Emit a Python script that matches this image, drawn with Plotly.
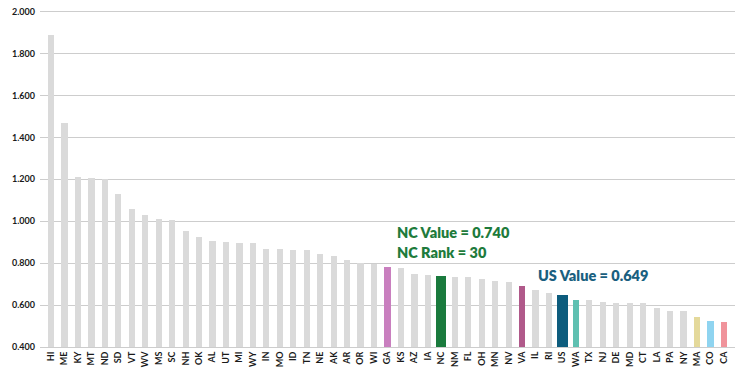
import plotly.graph_objects as go

# State values, sorted high to low (US average included as its own bar)
states = ["HI", "ME", "KY", "MT", "ND", "SD", "VT", "WV", "MS", "SC",
          "NH", "OK", "AL", "UT", "MI", "WY", "IN", "MO", "ID", "TN",
          "NE", "AK", "AR", "OR", "WI", "GA", "KS", "AZ", "IA", "NC",
          "NM", "FL", "OH", "MN", "NV", "VA", "IL", "RI", "US", "WA",
          "TX", "NJ", "DE", "MD", "CT", "LA", "PA", "NY", "MA", "CO", "CA"]
values = [1.890, 1.470, 1.210, 1.208, 1.200, 1.130, 1.060, 1.030, 1.010, 1.005,
          0.955, 0.925, 0.908, 0.900, 0.898, 0.895, 0.870, 0.869, 0.865, 0.864,
          0.843, 0.835, 0.816, 0.800, 0.797, 0.784, 0.776, 0.748, 0.744, 0.740,
          0.736, 0.735, 0.725, 0.717, 0.709, 0.692, 0.670, 0.658, 0.649, 0.625,
          0.624, 0.614, 0.610, 0.610, 0.609, 0.588, 0.574, 0.571, 0.543, 0.522, 0.521]

highlight_colors = {
    "GA": "#c97fbf",
    "NC": "#1a7a3d",
    "VA": "#b0598a",
    "US": "#0d5c7d",
    "WA": "#5fc0b1",
    "MA": "#e4d99b",
    "CO": "#8fd4f0",
    "CA": "#f0939b",
}
wide_bars = ["NC", "US"]
base_color = "#dadada"

colors = [highlight_colors.get(s, base_color) for s in states]
widths = [0.76 if s in wide_bars else 0.46 for s in states]

nc_value = values[states.index("NC")]
nc_rank = states.index("NC") + 1
us_value = values[states.index("US")]

fig = go.Figure(
    go.Bar(
        x=states,
        y=values,
        marker=dict(color=colors, line=dict(width=0)),
        width=widths,
        hoverinfo="x+y",
    )
)

tick_font = dict(family="Lato", size=9, color="#1a1a1a", weight=700)
label_font = dict(family="Lato", size=14.5, weight=800)

fig.update_layout(
    width=738,
    height=369,
    margin=dict(l=40, r=3, t=10, b=22),
    paper_bgcolor="white",
    plot_bgcolor="white",
    showlegend=False,
    bargap=0,
    xaxis=dict(
        type="category",
        range=[-0.82, 50.82],
        tickangle=-90,
        tickfont=tick_font,
        showgrid=False,
        showline=True,
        linecolor="#cdcdcd",
        linewidth=1,
        ticks="",
        automargin=False,
    ),
    yaxis=dict(
        range=[0.4, 2.008],
        tick0=0.4,
        dtick=0.2,
        tickformat=".3f",
        tickfont=tick_font,
        showgrid=True,
        gridcolor="#cdcdcd",
        gridwidth=1,
        zeroline=False,
        ticks="",
        ticklabelstandoff=4,
        automargin=False,
    ),
    annotations=[
        dict(
            x=25.56, y=0.947, xref="x", yref="y",
            text=f"NC Value = {nc_value:.3f}",
            showarrow=False, xanchor="left", yanchor="middle",
            font=dict(label_font, color="#1e7b3c"),
        ),
        dict(
            x=25.56, y=0.851, xref="x", yref="y",
            text=f"NC Rank = {nc_rank}",
            showarrow=False, xanchor="left", yanchor="middle",
            font=dict(label_font, color="#1e7b3c"),
        ),
        dict(
            x=36.03, y=0.742, xref="x", yref="y",
            text=f"US Value = {us_value:.3f}",
            showarrow=False, xanchor="left", yanchor="middle",
            font=dict(label_font, color="#1a5f80"),
        ),
    ],
)

fig.write_html("out.html")
